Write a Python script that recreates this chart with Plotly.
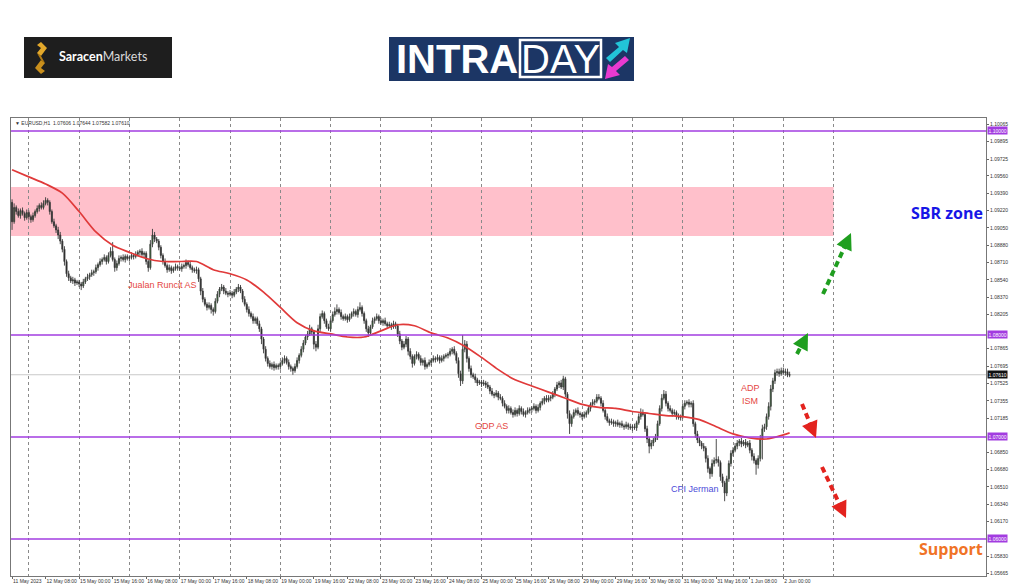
import plotly.graph_objects as go

# ---------------- data (EURUSD H1) ----------------
first_open = 1.0930
close = [
    1.0911, 1.0925, 1.0921, 1.0917, 1.0922, 1.0919, 1.0915, 1.0920,
    1.0916, 1.0913, 1.0917, 1.0921, 1.0924, 1.0927, 1.0925, 1.0929,
    1.0932, 1.0930, 1.0921, 1.0911, 1.0907, 1.0903, 1.0898, 1.0892,
    1.0884, 1.0872, 1.0860, 1.0856, 1.0853, 1.0854, 1.0851, 1.0852,
    1.0850, 1.0848, 1.0852, 1.0855, 1.0857, 1.0859, 1.0861, 1.0862,
    1.0866, 1.0869, 1.0872, 1.0874, 1.0876, 1.0872, 1.0878, 1.0882,
    1.0874, 1.0866, 1.0870, 1.0875, 1.0876, 1.0874, 1.0877, 1.0875,
    1.0876, 1.0878, 1.0877, 1.0879, 1.0881, 1.0882, 1.0879, 1.0880,
    1.0872, 1.0866, 1.0889, 1.0898, 1.0894, 1.0892, 1.0886, 1.0878,
    1.0872, 1.0868, 1.0864, 1.0866, 1.0863, 1.0865, 1.0867, 1.0866,
    1.0865, 1.0867, 1.0868, 1.0871, 1.0869, 1.0866, 1.0864, 1.0863,
    1.0864, 1.0855, 1.0843, 1.0835, 1.0830, 1.0827, 1.0829, 1.0825,
    1.0823, 1.0833, 1.0840, 1.0845, 1.0847, 1.0843, 1.0841, 1.0840,
    1.0841, 1.0839, 1.0842, 1.0845, 1.0847, 1.0843, 1.0835, 1.0830,
    1.0825, 1.0821, 1.0818, 1.0814, 1.0816, 1.0811, 1.0806, 1.0796,
    1.0786, 1.0777, 1.0772, 1.0769, 1.0771, 1.0768, 1.0770, 1.0769,
    1.0772, 1.0775, 1.0777, 1.0773, 1.0769, 1.0767, 1.0765, 1.0769,
    1.0775, 1.0780, 1.0786, 1.0792, 1.0798, 1.0801, 1.0806, 1.0803,
    1.0791, 1.0788, 1.0806, 1.0818, 1.0821, 1.0814, 1.0808, 1.0806,
    1.0814, 1.0820, 1.0823, 1.0825, 1.0822, 1.0818, 1.0816, 1.0818,
    1.0815, 1.0818, 1.0821, 1.0823, 1.0820, 1.0825, 1.0827, 1.0821,
    1.0814, 1.0806, 1.0802, 1.0808, 1.0814, 1.0816, 1.0818, 1.0814,
    1.0812, 1.0814, 1.0811, 1.0809, 1.0810, 1.0808, 1.0811, 1.0809,
    1.0801, 1.0794, 1.0788, 1.0791, 1.0796, 1.0784, 1.0779, 1.0772,
    1.0779, 1.0781, 1.0777, 1.0773, 1.0775, 1.0769, 1.0771, 1.0773,
    1.0775, 1.0777, 1.0776, 1.0778, 1.0775, 1.0777, 1.0779, 1.0780,
    1.0781, 1.0784, 1.0786, 1.0782, 1.0775, 1.0762, 1.0755, 1.0786,
    1.0791, 1.0777, 1.0767, 1.0761, 1.0759, 1.0756, 1.0753, 1.0754,
    1.0752, 1.0753, 1.0751, 1.0749, 1.0745, 1.0742, 1.0741, 1.0743,
    1.0739, 1.0738, 1.0733, 1.0730, 1.0726, 1.0728, 1.0724, 1.0722,
    1.0726, 1.0723, 1.0728, 1.0725, 1.0722, 1.0724, 1.0726, 1.0727,
    1.0728, 1.0730, 1.0726, 1.0729, 1.0733, 1.0735, 1.0738, 1.0736,
    1.0738, 1.0739, 1.0742, 1.0747, 1.0751, 1.0753, 1.0749, 1.0757,
    1.0742, 1.0723, 1.0713, 1.0720, 1.0724, 1.0726, 1.0723, 1.0722,
    1.0720, 1.0722, 1.0724, 1.0728, 1.0732, 1.0734, 1.0735, 1.0739,
    1.0738, 1.0733, 1.0726, 1.0720, 1.0716, 1.0714, 1.0715, 1.0713,
    1.0714, 1.0712, 1.0713, 1.0711, 1.0710, 1.0712, 1.0710, 1.0709,
    1.0710, 1.0709, 1.0714, 1.0720, 1.0724, 1.0722, 1.0708, 1.0698,
    1.0691, 1.0694, 1.0697, 1.0700, 1.0713, 1.0728, 1.0738, 1.0742,
    1.0733, 1.0728, 1.0726, 1.0723, 1.0724, 1.0720, 1.0719, 1.0720,
    1.0730, 1.0733, 1.0734, 1.0732, 1.0733, 1.0713, 1.0703, 1.0697,
    1.0694, 1.0691, 1.0689, 1.0679, 1.0669, 1.0664, 1.0674, 1.0677,
    1.0678, 1.0675, 1.0661, 1.0655, 1.0645, 1.0659, 1.0674, 1.0684,
    1.0687, 1.0691, 1.0694, 1.0696, 1.0693, 1.0695, 1.0692, 1.0694,
    1.0687, 1.0681, 1.0677, 1.0673, 1.0679, 1.0698, 1.0708, 1.0710,
    1.0720, 1.0730, 1.0747, 1.0755, 1.0763, 1.0764, 1.0762, 1.0765,
    1.0763, 1.0764, 1.07606, 1.07610,
]
# upper / lower wick lengths in pips (0.0001)
wick_hi = [
    3, 4, 2, 3, 2, 3, 2, 3,  2, 2, 3, 2, 3, 2, 3, 3,  3, 2, 2, 2, 3, 2, 3, 3,
    2, 3, 2, 3, 2, 3, 2, 2,  2, 2, 3, 2, 3, 2, 3, 2,  3, 2, 3, 2, 3, 2, 3, 4,
    9, 2, 3, 3, 2, 3, 2, 2,  2, 3, 2, 3, 2, 2, 3, 2,  2, 2, 4, 6, 3, 2, 2, 2,
    2, 3, 2, 3, 2, 2, 3, 2,  2, 3, 2, 3, 2, 3, 2, 2,  3, 2, 2, 3, 2, 2, 3, 2,
    2, 3, 3, 2, 3, 2, 3, 2,  3, 2, 3, 2, 3, 2, 2, 3,  2, 3, 2, 3, 2, 2, 3, 2,
    2, 3, 2, 3, 2, 3, 2, 2,  2, 3, 3, 2, 3, 2, 2, 3,  3, 2, 3, 3, 2, 3, 4, 2,
    2, 3, 4, 3, 3, 2, 2, 3,  2, 3, 4, 5, 2, 3, 2, 3,  2, 3, 2, 3, 2, 3, 5, 2,
    2, 2, 3, 2, 3, 2, 3, 2,  3, 2, 3, 2, 3, 2, 3, 2,  2, 3, 2, 3, 3, 2, 3, 2,
    2, 3, 2, 3, 2, 3, 2, 3,  2, 3, 2, 3, 2, 3, 2, 2,  2, 3, 2, 3, 2, 3, 3, 14,
    4, 3, 2, 3, 2, 3, 2, 2,  2, 3, 2, 3, 2, 3, 2, 3,  2, 3, 2, 3, 2, 3, 2, 3,
    3, 2, 3, 2, 3, 2, 3, 2,  2, 3, 2, 3, 2, 3, 2, 3,  3, 2, 3, 2, 3, 2, 3, 3,
    2, 2, 3, 2, 3, 2, 3, 2,  2, 3, 2, 3, 2, 3, 2, 3,  3, 2, 3, 2, 3, 2, 3, 2,
    2, 3, 2, 3, 2, 3, 2, 3,  2, 3, 2, 3, 4, 3, 2, 3,  2, 3, 2, 3, 3, 3, 4, 4,
    3, 2, 3, 2, 3, 2, 3, 2,  3, 3, 2, 3, 2, 3, 2, 3,  3, 2, 3, 2, 3, 2, 4, 3,
    20, 3, 2, 3, 2, 3, 3, 3,  3, 3, 3, 2, 3, 2, 3, 2,  3, 2, 3, 2, 3, 4, 4, 3,
    3, 4, 4, 3, 3, 3, 3, 3,  3, 3, 3, 3,
]
wick_lo = [
    8, 2, 3, 2, 3, 2, 3, 2,  3, 3, 2, 2, 2, 3, 2, 2,  2, 3, 3, 2, 2, 3, 4, 3,
    3, 4, 3, 3, 2, 3, 3, 2,  3, 4, 2, 2, 2, 3, 2, 3,  2, 3, 2, 3, 2, 3, 2, 2,
    2, 4, 3, 2, 3, 2, 3, 2,  3, 2, 3, 2, 2, 3, 2, 3,  3, 4, 2, 3, 3, 2, 3, 3,
    3, 2, 3, 2, 3, 2, 2, 3,  2, 3, 2, 3, 2, 2, 3, 2,  3, 3, 4, 3, 2, 3, 2, 4,
    4, 2, 2, 3, 2, 3, 2, 3,  2, 3, 2, 2, 3, 2, 3, 2,  3, 3, 2, 3, 3, 2, 3, 5,
    4, 3, 3, 2, 3, 3, 2, 3,  3, 2, 3, 2, 3, 3, 4, 2,  2, 3, 2, 3, 2, 3, 2, 3,
    5, 4, 2, 3, 2, 3, 2, 2,  3, 2, 2, 3, 2, 3, 2, 2,  3, 2, 2, 3, 2, 3, 2, 3,
    3, 3, 4, 2, 2, 3, 2, 3,  2, 3, 2, 3, 2, 3, 2, 3,  3, 3, 3, 2, 3, 4, 3, 4,
    2, 3, 2, 3, 3, 3, 2, 2,  3, 2, 3, 2, 3, 2, 3, 2,  3, 2, 3, 2, 3, 4, 5, 3,
    3, 4, 3, 3, 2, 3, 3, 2,  3, 2, 3, 2, 3, 2, 3, 2,  3, 2, 3, 2, 3, 3, 2, 3,
    2, 3, 2, 3, 2, 3, 2, 3,  3, 2, 3, 2, 3, 2, 3, 2,  2, 3, 2, 3, 2, 3, 2, 3,
    3, 5, 10, 3, 2, 3, 2, 3,  3, 2, 3, 2, 3, 2, 3, 2,  2, 3, 2, 3, 2, 3, 2, 3,
    3, 2, 3, 2, 3, 2, 3, 2,  3, 2, 3, 2, 3, 2, 3, 4,  7, 3, 3, 2, 3, 2, 3, 2,
    3, 3, 2, 3, 2, 3, 2, 3,  2, 3, 2, 3, 3, 3, 4, 3,  3, 3, 3, 4, 4, 5, 3, 3,
    3, 4, 4, 4, 8, 3, 3, 3,  3, 2, 3, 3, 3, 2, 3, 2,  3, 4, 3, 10, 4, 3, 20, 3,
    3, 3, 4, 3, 3, 3, 3, 2,  2, 3, 2, 2,
]

# moving average (red line), sampled every 8 bars
ma_bar = [0, 8, 16, 24, 32, 40, 48, 56, 64, 72, 80, 88, 96, 104, 112, 120, 128,
          136, 144, 152, 160, 168, 176, 184, 192, 200, 208, 216, 224, 232, 240,
          248, 256, 264, 272, 280, 288, 296, 304, 312, 320, 328, 336, 344, 352,
          360, 368, 371]
ma_val = [1.0962, 1.0955, 1.0948, 1.0939, 1.0921, 1.0901, 1.0888, 1.0881, 1.0875,
          1.0872, 1.0872, 1.0872, 1.0864, 1.0860, 1.0854, 1.0842, 1.0827, 1.0812,
          1.0804, 1.0801, 1.0798, 1.0798, 1.0804, 1.0810, 1.0809, 1.0802, 1.0797,
          1.0789, 1.0778, 1.0766, 1.0756, 1.0750, 1.0744, 1.0738, 1.0732, 1.0729,
          1.0728, 1.0725, 1.0723, 1.0721, 1.0720, 1.0717, 1.0710, 1.0703, 1.0699,
          1.0698, 1.0702, 1.0704]

time_labels = ["11 May 2023", "12 May 08:00", "15 May 00:00", "15 May 16:00",
               "16 May 08:00", "17 May 00:00", "17 May 16:00", "18 May 08:00",
               "19 May 00:00", "19 May 16:00", "22 May 08:00", "23 May 00:00",
               "23 May 16:00", "24 May 08:00", "25 May 00:00", "25 May 16:00",
               "26 May 08:00", "29 May 00:00", "29 May 16:00", "30 May 08:00",
               "31 May 00:00", "31 May 16:00", "1 Jun 08:00", "2 Jun 00:00"]
time_label_bar = [16 * k for k in range(len(time_labels))]
day_start_bar = [8, 32, 56, 80, 104, 128, 152, 176, 200, 224, 248, 272, 296,
                 320, 344, 368, 392]

price_ticks = [1.10065, 1.09895, 1.09725, 1.09560, 1.09390, 1.09220, 1.09050,
               1.08880, 1.08710, 1.08540, 1.08370, 1.08205, 1.07865, 1.07695,
               1.07525, 1.07355, 1.07185, 1.06850, 1.06680, 1.06510, 1.06340,
               1.06170, 1.05830, 1.05665]
levels = [1.10000, 1.08000, 1.07000, 1.06000]
sbr_zone = [1.08971, 1.09451]
last_price = 1.07610
header = "\u25BC EURUSD,H1  1.07606 1.07644 1.07582 1.07610"

# ---------------- derived OHLC ----------------
n = len(close)
bars = list(range(n))
opens = [first_open] + close[:-1]
highs = [max(o, c) + h / 10000 for o, c, h in zip(opens, close, wick_hi)]
lows = [min(o, c) - l / 10000 for o, c, l in zip(opens, close, wick_lo)]

# ---------------- layout geometry (pixels) ----------------
W, H = 1024, 587
PL, PR, PT, PB = 11, 986, 118, 576
TICK_FONT = dict(family="Liberation Sans", size=5, color="#333")


def px(x):
    return (x - PL) / (PR - PL)


def py(y):
    return (PB - y) / (PB - PT)


def path(points):
    return "M " + " L ".join(f"{px(a):.5f},{py(b):.5f}" for a, b in points) + " Z"


fig = go.Figure()

fig.add_trace(go.Candlestick(
    x=bars, open=opens, high=highs, low=lows, close=close,
    increasing=dict(fillcolor="#2f8a2f", line=dict(color="#3a3a3a", width=0.9)),
    decreasing=dict(fillcolor="#111111", line=dict(color="#3a3a3a", width=0.9)),
    whiskerwidth=0, showlegend=False, hoverinfo="skip",
))

fig.add_trace(go.Scatter(
    x=ma_bar, y=ma_val, mode="lines",
    line=dict(color="#e03a3a", width=1.7, shape="spline", smoothing=0.8),
    showlegend=False, hoverinfo="skip",
))

shapes = []
# SBR zone
shapes.append(dict(type="rect", xref="x", yref="y", x0=-0.5, x1=day_start_bar[-1],
                   y0=sbr_zone[0], y1=sbr_zone[1], fillcolor="#ffc0cb",
                   line=dict(width=0), layer="below"))
# key levels
for lv in levels:
    shapes.append(dict(type="line", xref="paper", yref="y", x0=0, x1=1, y0=lv, y1=lv,
                       line=dict(color="#a23ce0", width=1.4), layer="above"))
# last price line
shapes.append(dict(type="line", xref="paper", yref="y", x0=0, x1=1,
                   y0=last_price, y1=last_price,
                   line=dict(color="#c9c9c9", width=1), layer="below"))

# dashed scenario arrows (pixel positions)
arrows = [
    ((823, 294), (851, 233), "#1f9e1f"),
    ((797, 354), (808, 333), "#1f9e1f"),
    ((802, 404), (816, 438), "#e3231e"),
    ((822, 467), (846, 518), "#e3231e"),
]
annotations = []
for (x0, y0), (x1, y1), col in arrows:
    dx, dy = x1 - x0, y1 - y0
    L = (dx * dx + dy * dy) ** 0.5
    ux, uy = dx / L, dy / L
    ex, ey = x1 - ux * 7, y1 - uy * 7
    shapes.append(dict(type="line", xref="paper", yref="paper",
                       x0=px(x0), y0=py(y0), x1=px(ex), y1=py(ey),
                       line=dict(color=col, width=4, dash="6px,4px")))
    annotations.append(dict(xref="paper", yref="paper", x=px(x1), y=py(y1),
                            ax=-ux * 9, ay=-uy * 9, axref="pixel", ayref="pixel",
                            text="", showarrow=True, arrowhead=2, arrowsize=1.1,
                            arrowwidth=3, arrowcolor=col))

# ---------------- logos ----------------
# Saracen Markets
shapes.append(dict(type="rect", xref="paper", yref="paper", x0=px(24), x1=px(172),
                   y0=py(78), y1=py(37), fillcolor="#1e1e1e", line=dict(width=0)))
shapes.append(dict(type="path", xref="paper", yref="paper",
                   path=path([(41, 42), (47, 48), (41, 56), (37, 53), (41, 48), (37, 45)]),
                   fillcolor="#e3a82b", line=dict(width=0)))
shapes.append(dict(type="path", xref="paper", yref="paper",
                   path=path([(41, 74), (35, 68), (41, 60), (45, 63), (41, 68), (45, 71)]),
                   fillcolor="#c98f1c", line=dict(width=0)))
shapes.append(dict(type="path", xref="paper", yref="paper",
                   path=path([(37, 53), (41, 56), (45, 63), (41, 60)]),
                   fillcolor="#b57d12", line=dict(width=0)))
annotations.append(dict(xref="paper", yref="paper", x=px(57), y=py(57),
                        xanchor="left", yanchor="middle", showarrow=False,
                        text="<b>Saracen</b><span style='color:#d8d8d8'>Markets</span>",
                        font=dict(family="Lato, Open Sans", size=12.5, color="white")))
# INTRADAY
shapes.append(dict(type="rect", xref="paper", yref="paper", x0=px(389), x1=px(634),
                   y0=py(81), y1=py(37), fillcolor="#1c3665", line=dict(width=0)))
shapes.append(dict(type="rect", xref="paper", yref="paper", x0=px(520), x1=px(601),
                   y0=py(77), y1=py(40), fillcolor="#1c3665",
                   line=dict(color="white", width=2.5)))
shapes.append(dict(type="path", xref="paper", yref="paper",
                   path=path([(606, 58), (619, 47), (615, 43), (630, 38), (627, 53),
                              (623, 50), (610, 62)]),
                   fillcolor="#22c4d8", line=dict(width=0)))
shapes.append(dict(type="path", xref="paper", yref="paper",
                   path=path([(629, 60), (616, 71), (620, 75), (605, 79), (608, 64),
                              (612, 67), (625, 56)]),
                   fillcolor="#e83ad0", line=dict(width=0)))
annotations.append(dict(xref="paper", yref="paper", x=px(457), y=py(59),
                        xanchor="center", yanchor="middle", showarrow=False,
                        text="<b>INTRA</b>",
                        font=dict(family="Liberation Sans", size=40, color="white")))
annotations.append(dict(xref="paper", yref="paper", x=px(560), y=py(59),
                        xanchor="center", yanchor="middle", showarrow=False,
                        text="DAY",
                        font=dict(family="Liberation Sans", size=40, color="white")))

# ---------------- chart texts ----------------
annotations.append(dict(xref="paper", yref="paper", x=px(13), y=py(123),
                        xanchor="left", yanchor="middle", showarrow=False,
                        text=header, font=TICK_FONT))
annotations.append(dict(xref="paper", yref="paper", x=px(985), y=py(213),
                        xanchor="right", yanchor="middle", showarrow=False,
                        text="<b>SBR zone</b>",
                        font=dict(family="Open Sans", size=16, color="#1616e6", weight=800)))
annotations.append(dict(xref="paper", yref="paper", x=px(985), y=py(549),
                        xanchor="right", yanchor="middle", showarrow=False,
                        text="<b>Support</b>",
                        font=dict(family="Open Sans", size=16, color="#f07326", weight=800)))
for txt, x, y, col in [("Jualan Runcit AS", 162, 285, "#e5463f"),
                       ("GDP AS", 491, 426, "#e5463f"),
                       ("ADP", 750, 388, "#e5463f"),
                       ("ISM", 750, 401, "#e5463f"),
                       ("CPI Jerman", 695, 489, "#4b4bd8")]:
    annotations.append(dict(xref="paper", yref="paper", x=px(x), y=py(y),
                            xanchor="center", yanchor="middle", showarrow=False,
                            text=txt, font=dict(family="Liberation Sans", size=9, color=col)))

# price boxes on the axis
for lv in levels:
    annotations.append(dict(xref="paper", yref="y", x=1, y=lv, xanchor="left",
                            yanchor="middle", xshift=1, showarrow=False,
                            text=f"{lv:.5f}", bgcolor="#a23ce0", borderpad=0.5,
                            font=dict(family="Liberation Sans", size=5, color="white")))
annotations.append(dict(xref="paper", yref="y", x=1, y=last_price, xanchor="left",
                        yanchor="middle", xshift=1, showarrow=False,
                        text=f"{last_price:.5f}", bgcolor="#111111", borderpad=0.5,
                        font=dict(family="Liberation Sans", size=5, color="white")))

fig.update_layout(
    width=W, height=H,
    margin=dict(l=PL, r=W - PR, t=PT, b=H - PB, pad=0, autoexpand=False),
    paper_bgcolor="white", plot_bgcolor="white",
    shapes=shapes, annotations=annotations,
    showlegend=False,
    xaxis=dict(
        range=[-0.5, 464.7], rangeslider=dict(visible=False),
        tickmode="array", tickvals=time_label_bar, ticktext=time_labels,
        tickangle=0, automargin=False,
        ticklabelposition="outside right", ticks="outside", ticklen=2,
        tickcolor="#666", tickfont=TICK_FONT,
        showgrid=False, zeroline=False,
        showline=True, linecolor="#777", linewidth=1, mirror=True,
        minor=dict(tickmode="array", tickvals=day_start_bar, showgrid=True,
                   gridcolor="#8a8a8a", griddash="dot", gridwidth=1, ticks=""),
    ),
    yaxis=dict(
        range=[1.05637, 1.10127], side="right", automargin=False,
        tickmode="array", tickvals=price_ticks,
        ticktext=[f"{v:.5f}" for v in price_ticks],
        ticks="outside", ticklen=2, tickcolor="#666",
        tickfont=TICK_FONT,
        showgrid=False, zeroline=False,
        showline=True, linecolor="#777", linewidth=1, mirror=True,
    ),
)

fig.write_html("out.html", include_plotlyjs=True,
               config={"displayModeBar": False},
               post_script="document.body.style.margin='0';document.body.style.padding='0';")
